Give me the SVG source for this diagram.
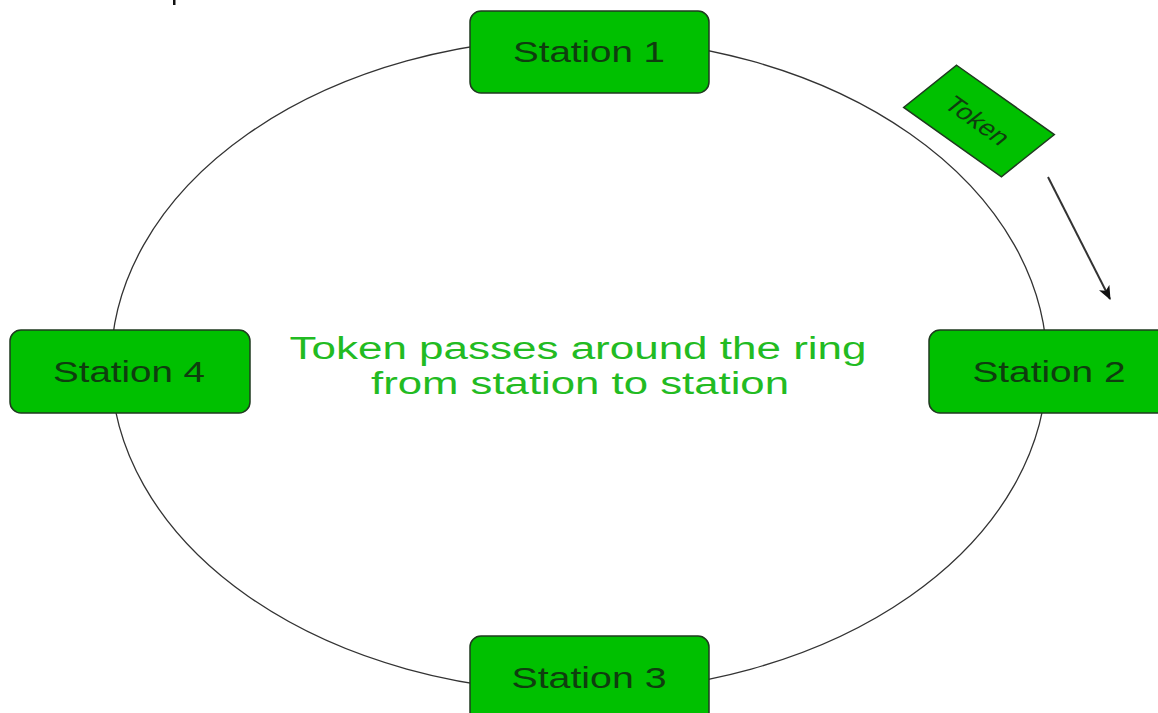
<svg xmlns="http://www.w3.org/2000/svg" width="1158" height="713" viewBox="0 0 1158 713">
<style>
.box{fill:#00c000;stroke:#1f3a1f;stroke-width:1.5}
.lbl{font-family:"Liberation Sans",Arial,sans-serif;font-size:30px;fill:#0f3d0f;text-anchor:middle}
.note{font-family:"Liberation Sans",Arial,sans-serif;font-size:31px;fill:#22bb22;text-anchor:middle}
.ring{fill:none;stroke:#333;stroke-width:1.3}
</style>
<defs>
<marker id="ah2" viewBox="0 0 12 10" refX="11" refY="5" markerWidth="14" markerHeight="12" markerUnits="userSpaceOnUse" orient="auto">
<path d="M0,0 L12,5 L0,10 L3,5 z" fill="#111"/>
</marker>
</defs>
<rect width="1158" height="713" fill="#fff"/>
<rect x="173" y="0" width="2.5" height="5" fill="#111"/>
<g id="connectors">
<ellipse class="ring" cx="579" cy="365" rx="468" ry="327"/>
<line x1="1048" y1="177" x2="1110" y2="299" stroke="#333" stroke-width="2" marker-end="url(#ah2)"/>
</g>
<g id="station1">
<rect class="box" x="470" y="11" width="239" height="82" rx="11"/>
<text class="lbl" x="589" y="62" textLength="152" lengthAdjust="spacingAndGlyphs">Station 1</text>
</g>
<g id="station2">
<rect class="box" x="929" y="330" width="240" height="83" rx="11"/>
<text class="lbl" x="1049" y="382" textLength="153" lengthAdjust="spacingAndGlyphs">Station 2</text>
</g>
<g id="station3">
<rect class="box" x="470" y="636" width="239" height="90" rx="11"/>
<text class="lbl" x="589" y="688" textLength="155" lengthAdjust="spacingAndGlyphs">Station 3</text>
</g>
<g id="station4">
<rect class="box" x="10" y="330" width="240" height="83" rx="11"/>
<text class="lbl" x="129" y="382" textLength="152" lengthAdjust="spacingAndGlyphs">Station 4</text>
</g>
<g id="token" transform="translate(979,121) scale(1.33,1) rotate(43.3)">
<rect class="box" x="-50.5" y="-29" width="101" height="58" vector-effect="non-scaling-stroke"/>
<text class="lbl" x="-1" y="8" style="font-size:22px">Token</text>
</g>
<g id="caption">
<text class="note" x="578" y="359" textLength="577" lengthAdjust="spacingAndGlyphs">Token passes around the ring</text>
<text class="note" x="580" y="394" textLength="418" lengthAdjust="spacingAndGlyphs">from station to station</text>
</g>
</svg>
